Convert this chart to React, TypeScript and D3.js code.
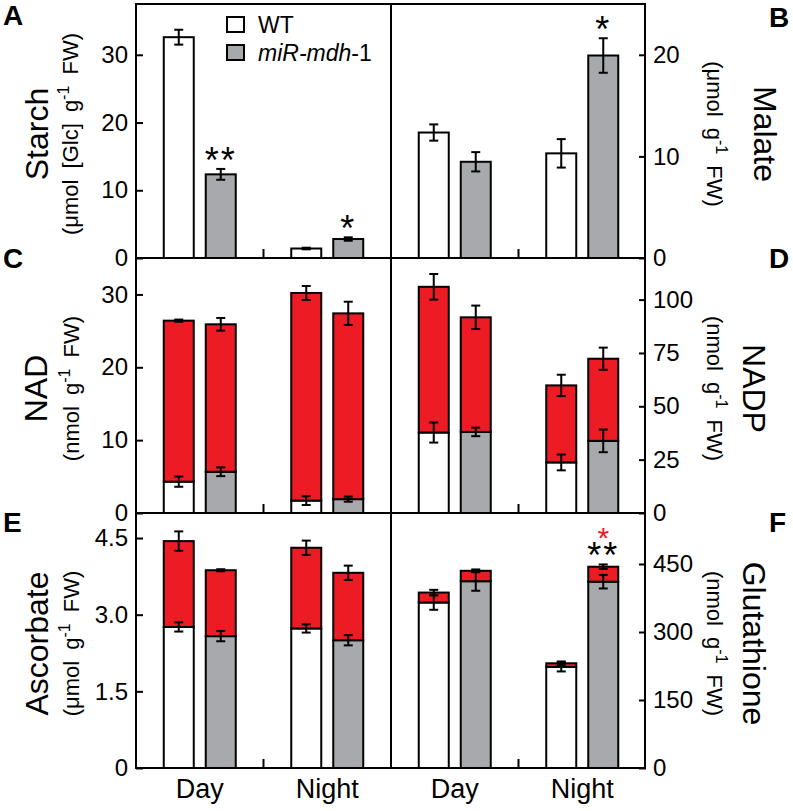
import React, {useEffect, useRef} from "react";
import * as d3 from "d3";

const categories = ["Day", "Night"];
const genotypes = ["WT", "miR-mdh-1"];

// A: starch
const starchWT = [32.6, 1.4];
const starchWTErr = [1.1, 0.12];
const starchMut = [12.35, 2.8];
const starchMutErr = [0.8, 0.25];
const starchStars = ["**", "*"];

// B: malate
const malateWT = [12.35, 10.3];
const malateWTErr = [0.8, 1.4];
const malateMut = [9.47, 19.93];
const malateMutErr = [0.95, 1.7];
const malateStars = ["", "*"];

// C: NAD (lower segment, total)
const nadLowWT = [4.3, 1.7];
const nadLowWTErr = [0.7, 0.6];
const nadTotWT = [26.4, 30.2];
const nadTotWTErr = [0.15, 0.96];
const nadLowMut = [5.66, 1.9];
const nadLowMutErr = [0.6, 0.35];
const nadTotMut = [25.9, 27.4];
const nadTotMutErr = [0.87, 1.6];

// D: NADP
const nadpLowWT = [37.7, 23.7];
const nadpLowWTErr = [4.7, 3.7];
const nadpTotWT = [106, 59.8];
const nadpTotWTErr = [6, 5];
const nadpLowMut = [38, 33.8];
const nadpLowMutErr = [2, 5.3];
const nadpTotMut = [91.7, 72.3];
const nadpTotMutErr = [5.5, 5.2];

// E: ascorbate
const ascLowWT = [2.76, 2.73];
const ascLowWTErr = [0.09, 0.08];
const ascTotWT = [4.44, 4.31];
const ascTotWTErr = [0.19, 0.14];
const ascLowMut = [2.58, 2.5];
const ascLowMutErr = [0.1, 0.1];
const ascTotMut = [3.87, 3.82];
const ascTotMutErr = [0.02, 0.14];

// F: glutathione
const gshLowWT = [365, 223];
const gshLowWTErr = [16, 10];
const gshTotWT = [387, 231];
const gshTotWTErr = [6, 4];
const gshLowMut = [412, 411];
const gshLowMutErr = [21, 15];
const gshTotMut = [435, 444];
const gshTotMutErr = [3, 5];
const gshStars = ["", "**"];
const gshRedStars = ["", "*"];

const starchTicks = [0, 10, 20, 30];
const malateTicks = [0, 10, 20];
const nadTicks = [0, 10, 20, 30];
const nadpTicks = [0, 25, 50, 75, 100];
const ascTicks = [0, 1.5, 3.0, 4.5];
const gshTicks = [0, 150, 300, 450];

const FONT = "'Liberation Sans', Arial, Helvetica, sans-serif";
const RED = "#ed1c24";
const GREY = "#a7a9ac";
const fills = ["#ffffff", GREY];

const X0 = 136, XM = 391, X1 = 645;
const rowEdges = [4, 258, 513, 768];
const COLW = 255;

const panels = [
  {letter: "A", col: 0, row: 0, max: 37.5, ticks: starchTicks, title: "Starch", unit: ["(μmol [Glc] g", "-1", " FW)"],
    low: [starchWT, starchMut], lowErr: [starchWTErr, starchMutErr], stars: starchStars, titleX: 48, unitX: 78},
  {letter: "B", col: 1, row: 0, max: 25, ticks: malateTicks, title: "Malate", unit: ["(μmol g", "-1", " FW)"],
    low: [malateWT, malateMut], lowErr: [malateWTErr, malateMutErr], stars: malateStars, titleX: 754, unitX: 707},
  {letter: "C", col: 0, row: 1, max: 35, ticks: nadTicks, title: "NAD", unit: ["(nmol g", "-1", " FW)"],
    low: [nadLowWT, nadLowMut], lowErr: [nadLowWTErr, nadLowMutErr],
    tot: [nadTotWT, nadTotMut], totErr: [nadTotWTErr, nadTotMutErr], titleX: 47, unitX: 79},
  {letter: "D", col: 1, row: 1, max: 119.5, ticks: nadpTicks, title: "NADP", unit: ["(nmol g", "-1", " FW)"],
    low: [nadpLowWT, nadpLowMut], lowErr: [nadpLowWTErr, nadpLowMutErr],
    tot: [nadpTotWT, nadpTotMut], totErr: [nadpTotWTErr, nadpTotMutErr], titleX: 743, unitX: 707},
  {letter: "E", col: 0, row: 2, max: 4.99, ticks: ascTicks, title: "Ascorbate", unit: ["(μmol g", "-1", " FW)"],
    low: [ascLowWT, ascLowMut], lowErr: [ascLowWTErr, ascLowMutErr],
    tot: [ascTotWT, ascTotMut], totErr: [ascTotWTErr, ascTotMutErr], titleX: 48, unitX: 79},
  {letter: "F", col: 1, row: 2, max: 562.5, ticks: gshTicks, title: "Glutathione", unit: ["(nmol g", "-1", " FW)"],
    low: [gshLowWT, gshLowMut], lowErr: [gshLowWTErr, gshLowMutErr],
    tot: [gshTotWT, gshTotMut], totErr: [gshTotWTErr, gshTotMutErr], stars: gshStars, redStars: gshRedStars,
    titleX: 743, unitX: 707},
];

const letterPos: Record<string, [number, number]> = {
  A: [3, 25], B: [769, 27], C: [3, 268], D: [769, 268], E: [3, 532], F: [769, 532],
};

function errBar(g: any, x: number, y1: number, y2: number) {
  g.append("line").attr("x1", x).attr("x2", x).attr("y1", y1).attr("y2", y2)
    .attr("stroke", "#000").attr("stroke-width", 2);
  [y1, y2].forEach((yy) =>
    g.append("line").attr("x1", x - 4.5).attr("x2", x + 4.5).attr("y1", yy).attr("y2", yy)
      .attr("stroke", "#000").attr("stroke-width", 2));
}

export default function App() {
  const ref = useRef<SVGSVGElement>(null);

  useEffect(() => {
    const svg = d3.select(ref.current);
    svg.selectAll("*").remove();

    const inner = d3.scaleBand<string>().domain(genotypes).range([-36, 36]).paddingInner(12 / 42).paddingOuter(0);

    panels.forEach((p: any) => {
      const x0 = p.col === 0 ? X0 : XM;
      const top = rowEdges[p.row], bottom = rowEdges[p.row + 1];
      const x = d3.scaleBand<string>().domain(categories).range([x0, x0 + COLW]).padding(0);
      const y = d3.scaleLinear().domain([0, p.max]).range([bottom, top]);
      const g = svg.append("g");

      categories.forEach((c, ci) => {
        genotypes.forEach((gt, gi) => {
          const bx = x(c)! + x.bandwidth() / 2 + inner(gt)!;
          const bw = inner.bandwidth();
          const low = p.low[gi][ci];
          g.append("rect").attr("x", bx).attr("y", y(low)).attr("width", bw).attr("height", y(0) - y(low))
            .attr("fill", fills[gi]).attr("stroke", "#000").attr("stroke-width", 2);
          if (p.tot) {
            const tot = p.tot[gi][ci];
            g.append("rect").attr("x", bx).attr("y", y(tot)).attr("width", bw).attr("height", y(low) - y(tot))
              .attr("fill", RED).attr("stroke", "#000").attr("stroke-width", 2);
          }
        });
      });

      categories.forEach((c, ci) => {
        genotypes.forEach((gt, gi) => {
          const cx = x(c)! + x.bandwidth() / 2 + inner(gt)! + inner.bandwidth() / 2;
          const low = p.low[gi][ci], le = p.lowErr[gi][ci];
          errBar(g, cx, y(low - le), y(low + le));
          let topVal = low + le;
          if (p.tot) {
            const tot = p.tot[gi][ci], te = p.totErr[gi][ci];
            errBar(g, cx, y(tot - te), y(tot + te));
            topVal = tot + te;
          }
          if (p.stars && gi === 1 && p.stars[ci]) {
            const by = y(topVal) + 4;
            g.append("text").attr("x", cx).attr("y", by).attr("text-anchor", "middle")
              .attr("font-family", FONT).attr("font-size", 36).attr("letter-spacing", 2)
              .attr("fill", "#000").text(p.stars[ci]);
            if (p.redStars && p.redStars[ci]) {
              g.append("text").attr("x", cx).attr("y", by - 20).attr("text-anchor", "middle")
                .attr("font-family", FONT).attr("font-size", 30).attr("fill", RED).text(p.redStars[ci]);
            }
          }
        });
      });

      // middle tick between day and night
      const mx = x0 + COLW / 2;
      g.append("line").attr("x1", mx).attr("x2", mx).attr("y1", bottom).attr("y2", bottom - 9)
        .attr("stroke", "#000").attr("stroke-width", 2);

      const fmt = (d: any) => (d === 0 ? "0" : p.letter === "E" ? d3.format(".1f")(d) : String(d));
      const axis = p.col === 0
        ? d3.axisLeft(y).tickValues(p.ticks).tickSize(-7).tickPadding(8).tickFormat(fmt)
        : d3.axisRight(y).tickValues(p.ticks).tickSize(-7).tickPadding(7).tickFormat(fmt);
      const ag = g.append("g").attr("transform", `translate(${p.col === 0 ? x0 : x0 + COLW},0)`).call(axis as any);
      ag.select(".domain").remove();
      ag.selectAll(".tick line").attr("stroke-width", 2);
      ag.selectAll("text").attr("font-family", FONT).attr("font-size", 24).attr("fill", "#000");

      const cy = (top + bottom) / 2 + 3;
      const rot = p.col === 0 ? -90 : 90;
      g.append("text").attr("transform", `translate(${p.titleX},${cy}) rotate(${rot})`)
        .attr("text-anchor", "middle").attr("font-family", FONT).attr("font-size", 32).text(p.title);
      const ut = g.append("text").attr("transform", `translate(${p.unitX},${cy}) rotate(${rot})`)
        .attr("text-anchor", "middle").attr("font-family", FONT).attr("font-size", 22)
        .attr("word-spacing", 5);
      ut.append("tspan").text(p.unit[0]);
      ut.append("tspan").attr("font-size", 16).attr("dy", -9).text(p.unit[1]);
      ut.append("tspan").attr("dy", 9).text(p.unit[2]);

      const [lx, ly] = letterPos[p.letter];
      svg.append("text").attr("x", lx).attr("y", ly).attr("font-family", FONT).attr("font-weight", "bold")
        .attr("font-size", 28).text(p.letter);
    });

    // frame
    svg.append("rect").attr("x", X0).attr("y", rowEdges[0]).attr("width", X1 - X0)
      .attr("height", rowEdges[3] - rowEdges[0]).attr("fill", "none").attr("stroke", "#000").attr("stroke-width", 2);
    svg.append("line").attr("x1", XM).attr("x2", XM).attr("y1", rowEdges[0]).attr("y2", rowEdges[3])
      .attr("stroke", "#000").attr("stroke-width", 2);
    [rowEdges[1], rowEdges[2]].forEach((yy) =>
      svg.append("line").attr("x1", X0).attr("x2", X1).attr("y1", yy).attr("y2", yy)
        .attr("stroke", "#000").attr("stroke-width", 2));

    // category labels
    [X0, XM].forEach((x0) => {
      const x = d3.scaleBand<string>().domain(categories).range([x0, x0 + COLW]);
      categories.forEach((c) =>
        svg.append("text").attr("x", x(c)! + x.bandwidth() / 2).attr("y", 798).attr("text-anchor", "middle")
          .attr("font-family", FONT).attr("font-size", 27).text(c));
    });

    // legend
    genotypes.forEach((gt, gi) => {
      const ly = 17 + gi * 28;
      svg.append("rect").attr("x", 227).attr("y", ly).attr("width", 17).attr("height", 15)
        .attr("fill", fills[gi]).attr("stroke", "#000").attr("stroke-width", 2);
      const t = svg.append("text").attr("x", 258).attr("y", ly + 16).attr("font-family", FONT).attr("font-size", 23);
      if (gi === 0) t.text(gt);
      else {
        t.append("tspan").attr("font-style", "italic").text("miR-mdh");
        t.append("tspan").text("-1");
      }
    });
  }, []);

  return (
    <svg ref={ref} width={793} height={811}
      style={{position: "absolute", left: 0, top: 0, background: "#fff"}} />
  );
}
